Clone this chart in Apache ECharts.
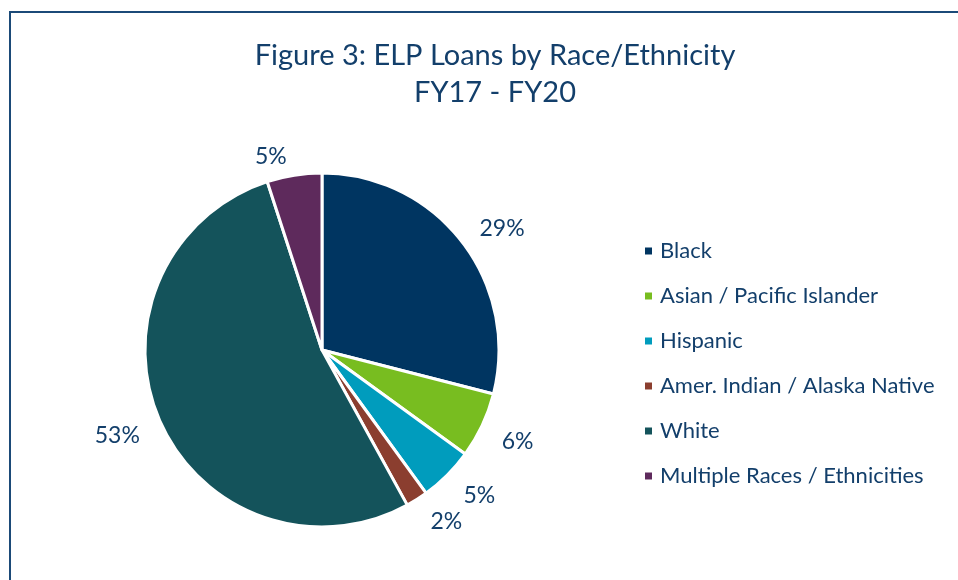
<!DOCTYPE html>
<html>
<head>
<meta charset="utf-8">
<script src="https://cdn.jsdelivr.net/npm/echarts@6/dist/echarts.min.js"></script>
<style>
html,body{margin:0;padding:0;background:#fff;}
#chart{width:958px;height:580px;}
</style>
</head>
<body>
<div id="chart"></div>
<script>
const categories = ['Black', 'Asian / Pacific Islander', 'Hispanic', 'Amer. Indian / Alaska Native', 'White', 'Multiple Races / Ethnicities'];
const values = [29, 6, 5, 2, 53, 5];
const colors = ['#003561', '#78bd20', '#009cbd', '#8b3e2f', '#14535b', '#5e2a5c'];
const titleLines = ['Figure 3: ELP Loans by Race/Ethnicity', 'FY17 - FY20'];

const chart = echarts.init(document.getElementById('chart'));
const font = 'Lato';
chart.setOption({
  backgroundColor: '#fff',
  animation: false,
  title: {
    text: titleLines.join('\n'),
    left: 490,
    top: 32,
    textAlign: 'center',
    textStyle: { fontFamily: font, fontSize: 29, fontWeight: 'normal', color: '#133f6b', lineHeight: 37 }
  },
  graphic: [{
    type: 'rect',
    shape: { x: 10, y: 12, width: 1000, height: 1000 },
    style: { fill: 'none', stroke: '#1b4a78', lineWidth: 2 },
    silent: true
  }],
  legend: {
    orient: 'vertical',
    left: 638,
    top: 235,
    icon: 'rect',
    itemWidth: 9,
    itemHeight: 9,
    itemGap: 23,
    data: categories,
    textStyle: { fontFamily: font, fontSize: 22, color: '#133f6b', lineHeight: 22, padding: [0, 0, 0, 2] }
  },
  series: [{
    type: 'pie',
    center: [322, 350],
    radius: 177,
    startAngle: 90,
    clockwise: true,
    avoidLabelOverlap: false,
    data: categories.map((c, i) => ({ name: c, value: values[i], itemStyle: { color: colors[i] } })),
    itemStyle: { borderColor: '#fff', borderWidth: 3 },
    label: {
      show: true,
      position: 'outside',
      formatter: p => p.value + '%',
      fontFamily: font,
      fontSize: 23,
      color: '#133f6b'
    },
    labelLine: { show: false, length: 16, length2: 0 },
    labelLayout: function (p) {
      const cy = p.labelRect.y + p.labelRect.height / 2;
      return { dy: cy > 350 ? 9 : -3 };
    },
    emphasis: { disabled: true }
  }]
});
</script>
</body>
</html>
